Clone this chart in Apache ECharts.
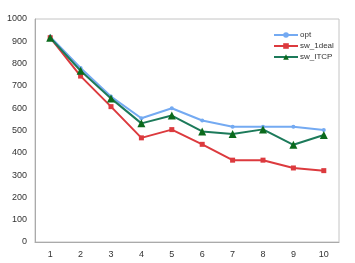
<!DOCTYPE html>
<html lang="en">
<head>
	<meta charset="UTF-8">
	<title>opt / sw_1deal / sw_ITCP</title>
	<script src="https://cdn.jsdelivr.net/npm/echarts@6/dist/echarts.min.js"></script>
	<style>
		html, body { margin: 0; padding: 0; background: #fff; }
		#main { width: 355px; height: 263px; }
	</style>
</head>
<body>
	<div id="main"></div>
<script type="text/javascript">
        // 数据
        var categories = ['1', '2', '3', '4', '5', '6', '7', '8', '9', '10'];
        var optData = [921, 780, 652, 555, 600, 545, 517, 517, 517, 502];
        var idealData = [916, 744, 607, 467, 504, 438, 367, 367, 332, 320];
        var itcpData = [916, 768, 644, 532, 567, 496, 484, 505, 436, 480];
        var yTicks = [0, 1000, 100];

        var myChart = echarts.init(document.getElementById('main'));

        var option = {
        	animation: false,
        	grid: {
        		left: 35, top: 19, right: 16, bottom: 21,
        		show: true,
        		borderColor: '#c4c4c4',
        		borderWidth: 1
        	},
        	legend: {
        		orient: 'vertical',
        		left: 268,
        		top: 26,
        		itemWidth: 24,
        		itemHeight: 7,
        		itemGap: 3,
        		textStyle: { color: '#333', fontSize: 8, fontFamily: 'Liberation Sans', padding: [0, 0, 0, -3] },
        		data: ['opt', 'sw_1deal', 'sw_ITCP']
        	},
        	xAxis: {
        		type: 'category',
        		data: categories,
        		axisLine: { lineStyle: { color: '#aaa' } },
        		axisTick: { show: false },
        		axisLabel: { color: '#333', fontSize: 9, fontFamily: 'Liberation Sans' }
        	},
        	yAxis: {
        		type: 'value',
        		min: yTicks[0],
        		max: yTicks[1],
        		interval: yTicks[2],
        		splitLine: { show: false },
        		axisLine: { show: true, lineStyle: { color: '#aaa' } },
        		axisTick: { show: false },
        		axisLabel: {
        			color: '#333', fontSize: 9, fontFamily: 'Liberation Sans',
        			formatter: function (v) { return String(v); }
        		}
        	},
        	series: [{
        		name: 'opt',
        		type: 'line',
        		data: optData,
        		symbol: 'circle',
        		symbolSize: 4,
        		z: 2,
        		lineStyle: { color: '#74aaf2', width: 2 },
        		itemStyle: { color: '#74aaf2' }
        	}, {
        		name: 'sw_1deal',
        		type: 'line',
        		data: idealData,
        		symbol: 'rect',
        		symbolSize: 5,
        		z: 3,
        		lineStyle: { color: '#dc3a3e', width: 2 },
        		itemStyle: { color: '#dc3a3e' }
        	}, {
        		name: 'sw_ITCP',
        		type: 'line',
        		data: itcpData,
        		symbol: 'triangle',
        		symbolSize: 8,
        		z: 4,
        		lineStyle: { color: '#1c7a5a', width: 2 },
        		itemStyle: { color: '#0b6a1c' }
        	}]
        };

        myChart.setOption(option);
</script>
</body>
</html>
